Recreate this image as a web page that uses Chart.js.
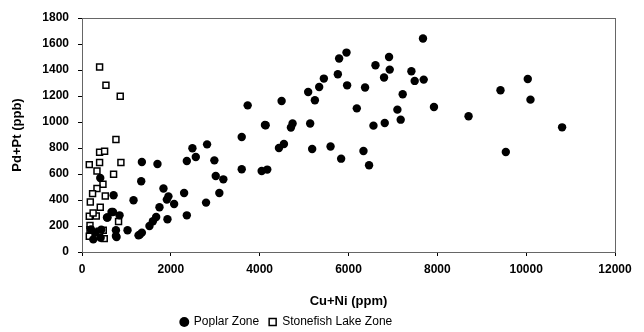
<!DOCTYPE html>
<html>
<head>
<meta charset="utf-8">
<script src="https://cdn.jsdelivr.net/npm/chart.js@4/dist/chart.umd.min.js"></script>
<style>
  html, body { margin: 0; padding: 0; background: #fff; }
  canvas { display: block; }
</style>
</head>
<body>
<canvas id="c" width="644" height="332"></canvas>
<script>
// ── Data ──────────────────────────────────────────────────────
const seriesNames = ['Poplar Zone', 'Stonefish Lake Zone'];

// Poplar Zone: [Cu+Ni ppm, Pd+Pt ppb]
const poplarX = [
  3730, 4135, 3596, 2816, 2486, 2562, 2360, 2980, 1348, 1699, 3596, 4045, 4171, 3011, 3182,
  411, 1333, 1834, 3092, 2299, 1946, 1910, 711, 1160, 2793, 2074, 1744, 697, 845, 562,
  1670, 2360, 1596, 1924, 1519, 1025, 764, 1348, 1272, 764, 434, 202, 254, 665, 575,
  300, 420, 1303, 778,
  7677, 5955, 5789, 6913, 6607, 6928, 6800, 7416, 7490, 7693, 5445, 5760, 5340, 5969, 6373,
  5092, 5243, 4494, 7220, 6187, 7101, 7924, 4119, 4741, 4704, 5137, 6562, 6816, 7175, 4546,
  4434, 5182, 5596, 5834, 6337, 6463,
  10036, 9422, 10097, 8703, 10809, 9542
];
const poplarY = [
  1128, 975, 885, 828, 798, 731, 700, 705, 692, 677, 636, 623, 634, 585, 559,
  569, 544, 488, 454, 454, 428, 403, 436, 398, 380, 369, 344, 308, 282, 265,
  269, 282, 236, 252, 200, 167, 167, 149, 128, 123, 172, 174, 97, 308, 265,
  150, 110, 134, 115,
  1642, 1534, 1488, 1500, 1436, 1403, 1342, 1390, 1316, 1326, 1334, 1367, 1269, 1282, 1265,
  1231, 1167, 1162, 1213, 1105, 1095, 1115, 977, 988, 957, 988, 972, 992, 1018, 831,
  800, 792, 811, 718, 777, 667,
  1331, 1244, 1172, 1044, 959, 769
];

// Stonefish Lake Zone
const stonefishX = [
  396, 539, 861, 764, 396, 509, 164, 396, 876, 337, 711, 472, 337, 238, 524,
  187, 411, 164, 321, 823, 180, 180, 479, 164, 306, 501, 250, 390
];
const stonefishY = [
  1423, 1282, 1198, 865, 767, 775, 672, 688, 688, 623, 598, 521, 488, 449, 431,
  385, 344, 275, 277, 234, 205, 172, 167, 121, 121, 103, 300, 160
];

const xTicks = [0, 2000, 4000, 6000, 8000, 10000, 12000];
const yTicks = [0, 200, 400, 600, 800, 1000, 1200, 1400, 1600, 1800];

const toPoints = (xs, ys) => xs.map((x, i) => ({ x, y: ys[i] }));

// frame around the plot area + nudge the legend like the original
const frame = {
  id: 'frame',
  afterLayout(chart) {
    const lg = chart.legend;
    if (lg) {
      lg.left -= 26; lg.right -= 26;
      lg.top -= 5; lg.bottom -= 5;
    }
  },
  afterDatasetsDraw(chart) {
    const { ctx, chartArea: a } = chart;
    ctx.save();
    ctx.strokeStyle = '#666';
    ctx.lineWidth = 1;
    ctx.strokeRect(a.left + 0.5, a.top + 0.5, a.right - a.left, a.bottom - a.top);
    ctx.restore();
  }
};

const FONT = 'Liberation Sans, Arial, sans-serif';
const tickFont = { family: FONT, size: 12, weight: 'bold' };

new Chart(document.getElementById('c'), {
  type: 'scatter',
  data: {
    datasets: [
      {
        label: seriesNames[0],
        data: toPoints(poplarX, poplarY),
        pointStyle: 'circle',
        pointRadius: 4.2,
        backgroundColor: '#000',
        borderColor: '#000',
        borderWidth: 0,
      },
      {
        label: seriesNames[1],
        data: toPoints(stonefishX, stonefishY),
        pointStyle: 'rect',
        pointRadius: 4.2,
        backgroundColor: '#fff',
        borderColor: '#000',
        borderWidth: 1.5,
      },
    ],
  },
  options: {
    responsive: false,
    animation: false,
    devicePixelRatio: 1,
    layout: { padding: { top: 18, right: 29, left: 10, bottom: 0 } },
    plugins: {
      legend: {
        position: 'bottom',
        maxHeight: 21,
        labels: {
          usePointStyle: true,
          boxWidth: 7,
          boxHeight: 7,
          padding: 10,
          color: '#000',
          font: { family: FONT, size: 12 },
        },
      },
      tooltip: { enabled: false },
    },
    scales: {
      x: {
        type: 'linear',
        min: 0,
        max: 12000,
        afterBuildTicks: s => { s.ticks = xTicks.map(v => ({ value: v })); },
        afterFit: s => { s.height = 59; },
        ticks: { color: '#000', font: tickFont, padding: 6, maxRotation: 0, autoSkip: false, callback: v => String(v) },
        grid: { drawOnChartArea: false, tickLength: 4, color: '#000' },
        border: { color: '#000' },
        title: {
          display: true,
          text: 'Cu+Ni (ppm)',
          color: '#000',
          font: { family: FONT, size: 13, weight: 'bold' },
          padding: { top: 6, bottom: 2 },
        },
      },
      y: {
        type: 'linear',
        min: 0,
        max: 1800,
        afterBuildTicks: s => { s.ticks = yTicks.map(v => ({ value: v })); },
        afterFit: s => { s.width = 72; },
        ticks: { color: '#000', font: tickFont, padding: 9, autoSkip: false, callback: v => String(v) },
        grid: { drawOnChartArea: false, tickLength: 4, color: '#000' },
        border: { color: '#000' },
        title: {
          display: true,
          text: 'Pd+Pt (ppb)',
          color: '#000',
          font: { family: FONT, size: 13, weight: 'bold' },
          padding: { top: 0, bottom: 4 },
        },
      },
    },
  },
  plugins: [frame],
});
</script>
</body>
</html>
